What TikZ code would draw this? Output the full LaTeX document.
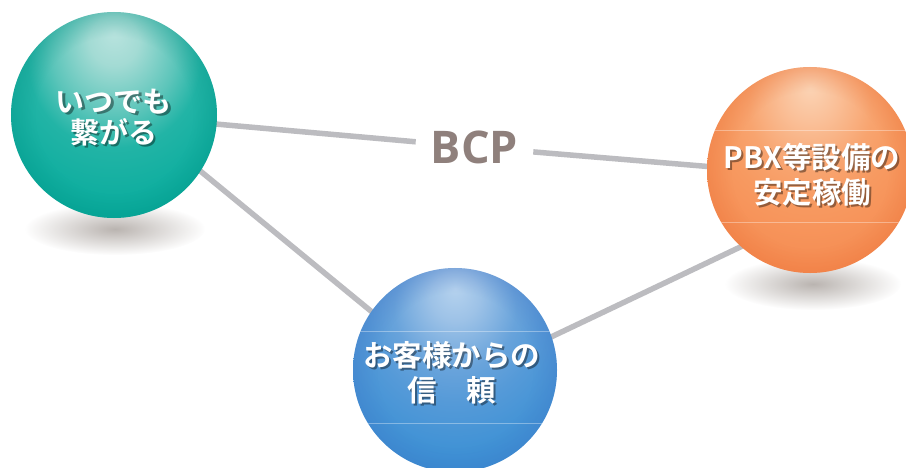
\documentclass[tikz,border=0pt]{standalone}
\usepackage{fontspec}
\newfontfamily\jp{Noto Sans CJK JP}[BoldFont={Noto Sans CJK JP Bold}]
\newfontfamily\latinb{Open Sans}
\usetikzlibrary{backgrounds,fadings,calc}

\definecolor{g0}{HTML}{B8E3DE}
\definecolor{g1}{HTML}{A3DBD4}
\definecolor{g2}{HTML}{5CC5BA}
\definecolor{g3}{HTML}{22B4A6}
\definecolor{g4}{HTML}{08AC9D}
\definecolor{g5}{HTML}{00A596}
\definecolor{o0}{HTML}{FBD3B4}
\definecolor{o1}{HTML}{FAC19A}
\definecolor{o2}{HTML}{F8A46F}
\definecolor{o3}{HTML}{F79A61}
\definecolor{o4}{HTML}{F68C52}
\definecolor{o5}{HTML}{F37F45}
\definecolor{b0}{HTML}{B5D2EE}
\definecolor{b1}{HTML}{9DC2E7}
\definecolor{b2}{HTML}{68A3DB}
\definecolor{b3}{HTML}{559AD8}
\definecolor{b4}{HTML}{388FD4}
\definecolor{b5}{HTML}{1F89D0}
\definecolor{rimg}{HTML}{078F82}
\definecolor{rimo}{HTML}{E86E34}
\definecolor{rimb}{HTML}{4A74C4}
\definecolor{connc}{HTML}{BCBCC0}
\definecolor{bcpc}{HTML}{8F807C}
\definecolor{shadowc}{HTML}{958C86}

\pgfdeclareradialshading{greenball}{\pgfpoint{0bp}{20bp}}{color(0bp)=(g0); color(6bp)=(g1); color(15bp)=(g2); color(21bp)=(g3); color(33bp)=(g4); color(45bp)=(g5); color(60bp)=(g5)}
\pgfdeclareradialshading{orangeball}{\pgfpoint{0bp}{20bp}}{color(0bp)=(o0); color(6bp)=(o1); color(15bp)=(o2); color(21bp)=(o3); color(33bp)=(o4); color(45bp)=(o5); color(60bp)=(o5)}
\pgfdeclareradialshading{blueball}{\pgfpoint{0bp}{20bp}}{color(0bp)=(b0); color(6bp)=(b1); color(15bp)=(b2); color(21bp)=(b3); color(33bp)=(b4); color(45bp)=(b5); color(60bp)=(b5)}
\pgfdeclareradialshading{rimsh}{\pgfpointorigin}{rgb(0bp)=(0,0,0); rgb(19bp)=(0,0,0); rgb(25bp)=(0.28,0.28,0.28); rgb(50bp)=(0.28,0.28,0.28)}
\pgfdeclarefading{rimfade}{\pgfuseshading{rimsh}}
\tikzfading[name=shfade, inner color=transparent!35, outer color=transparent!100]

\begin{document}
\begin{tikzpicture}[x=1pt,y=-1pt,
  ball/.style={circle, inner sep=0pt, draw=none, shade},
  conn/.style={draw=connc, line width=5.5pt},
  faint/.style={draw=white, opacity=0.35, line width=0.8pt},
  lbl/.style={text=white, align=center, inner sep=0pt},
  lblsh/.style={text=black, align=center, inner sep=0pt, opacity=0.4},
  jpfont/.style={font=\jp\bfseries\fontsize{29}{31}\selectfont},
  jpfontb/.style={font=\jp\bfseries\fontsize{29.5}{35}\selectfont},
  bcpstyle/.style={text=bcpc, font=\latinb\bfseries\fontsize{45}{48}\selectfont, inner xsep=15pt, inner ysep=4pt}]
\path[use as bounding box] (0,0) rectangle (906,468);
\clip (0,0) rectangle (906,468);

% balls
\node[ball, shading=greenball, minimum size=206pt] (g) at (114,115) {};
\node[ball, shading=orangeball, minimum size=206pt] (o) at (810,170) {};
\node[ball, shading=blueball, minimum size=204pt] (b) at (455,370) {};

% rims
\fill[rimg, path fading=rimfade] (g.center) circle (103pt);
\fill[rimo, path fading=rimfade] (o.center) circle (103pt);
\fill[rimb, path fading=rimfade] (b.center) circle (102pt);

% faint horizontal lines
\begin{scope}
  \clip (o.center) circle (103pt);
  \draw[faint] (690,130) -- (920,130);
  \draw[faint] (690,222) -- (920,222);
\end{scope}
\begin{scope}
  \clip (b.center) circle (102pt);
  \draw[faint] (340,331) -- (570,331);
  \draw[faint] (340,423) -- (570,423);
\end{scope}

% BCP label
\node[bcpstyle] (bcp) at (474.5,147) {BCP};

% texts with drop shadows
\node[lblsh, jpfont] (gts) at (116,120) {いつでも\\繋がる};
\node[lbl, jpfont] (gt) at (114,118) {いつでも\\繋がる};

\node[lblsh, jpfontb] (ots) at (814,176.5) {PBX等設備の\\安定稼働};
\node[lbl, jpfontb] (ot) at (812,174.5) {PBX等設備の\\安定稼働};

\node[lblsh, jpfontb] (bts) at (453.5,374.5) {お客様からの\\信　頼};
\node[lbl, jpfontb] (bt) at (451.5,372.5) {お客様からの\\信　頼};

\begin{pgfonlayer}{background}
  \fill[white] (0,0) rectangle (906,468);
  \fill[shadowc, path fading=shfade] (115,229) ellipse [x radius=90pt, y radius=26pt];
  \fill[shadowc, path fading=shfade] (813,284) ellipse [x radius=88pt, y radius=26pt];
  \draw[conn, shorten <=-4pt] (g) -- (bcp);
  \draw[conn, shorten >=-4pt] (bcp) -- (o.178);
  \draw[conn, shorten <=-4pt, shorten >=-4pt] (g.-33) -- (b.145);
  \draw[conn, shorten <=-4pt, shorten >=-4pt] (b.19) -- (o.228);
\end{pgfonlayer}
\end{tikzpicture}
\end{document}
